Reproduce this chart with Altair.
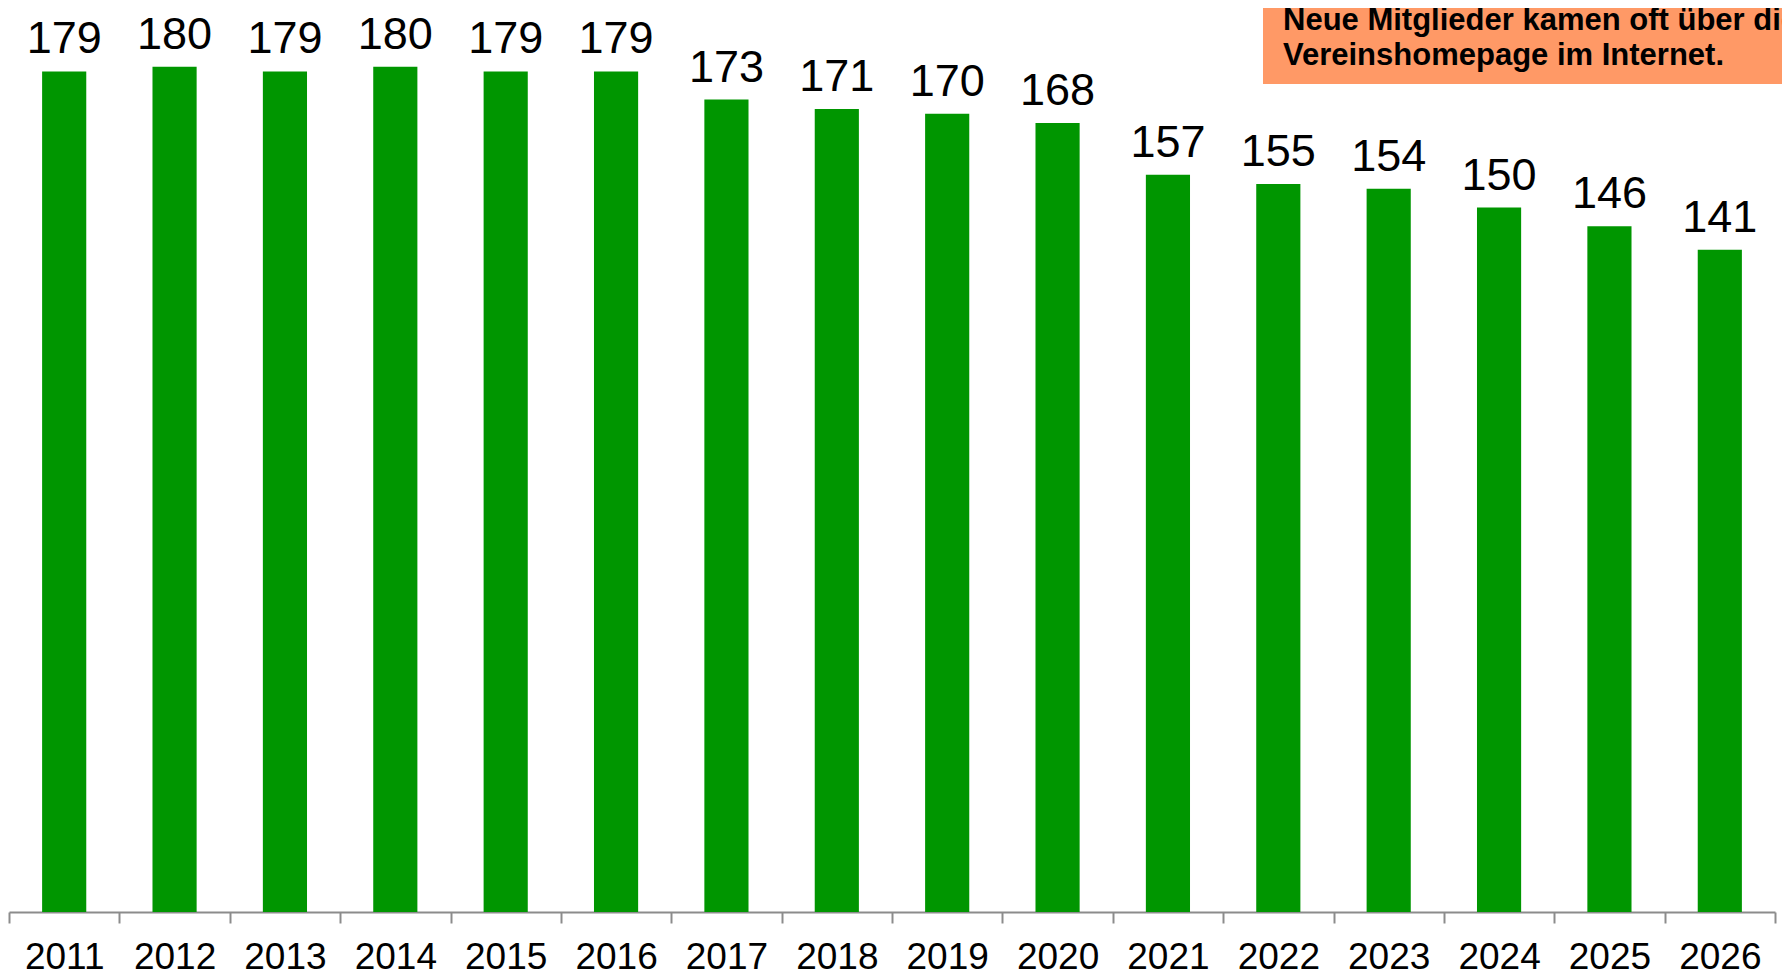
import altair as alt
import pandas as pd

years = ["2011", "2012", "2013", "2014", "2015", "2016", "2017", "2018",
         "2019", "2020", "2021", "2022", "2023", "2024", "2025", "2026"]
values = [179, 180, 179, 180, 179, 179, 173, 171, 170, 168, 157, 155, 154, 150, 146, 141]
note_text = ["Neue Mitglieder kamen oft über die\nVereinshomepage im Internet."]

df = pd.DataFrame({"year": years, "value": values})
note = pd.DataFrame({"text": note_text})

FONT = "Liberation Sans, Arial, sans-serif"

x = alt.X(
    "year:N",
    sort=years,
    scale=alt.Scale(paddingInner=0, paddingOuter=0),
    axis=alt.Axis(
        title=None,
        labelAngle=0,
        labelFont=FONT,
        labelFontSize=37,
        labelColor="#000000",
        labelBaseline="alphabetic",
        labelPadding=45,
        tickBand="extent",
        tickSize=11,
        tickWidth=2,
        tickColor="#8c8c8c",
        domainColor="#8c8c8c",
        domainWidth=2,
        grid=False,
    ),
)
y = alt.Y("value:Q", scale=alt.Scale(domain=[0, 192.5], nice=False), axis=None)

bars = alt.Chart(df).mark_bar(color="#009600", width={"band": 0.4}).encode(x=x, y=y)
labels = alt.Chart(df).mark_text(
    baseline="alphabetic", dy=-18, fontSize=45, font=FONT, color="#000000"
).encode(x=x, y=y, text="value:Q")

box = alt.Chart(note).mark_rect(color="#FF9966").encode(
    x=alt.value(1254), x2=alt.value(1800), y=alt.value(-10), y2=alt.value(76)
)
box_text = alt.Chart(note).mark_text(
    align="left", baseline="alphabetic", fontSize=31, fontWeight="bold",
    font=FONT, color="#000000", lineBreak="\n", lineHeight=35
).encode(x=alt.value(1274), y=alt.value(22), text="text:N")

chart = (
    alt.layer(bars, labels, box, box_text)
    .properties(
        width=1766,
        height=904,
        autosize=alt.AutoSizeParams(type="none"),
        padding={"left": 1, "top": 0, "right": 7, "bottom": 68},
    )
    .configure_view(stroke=None)
)

chart.save("out.html", embed_options={"renderer": "svg", "actions": False})
